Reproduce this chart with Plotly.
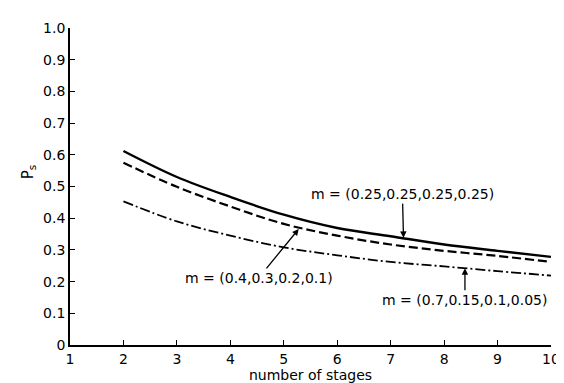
import plotly.graph_objects as go

stages = [2, 3, 4, 5, 6, 7, 8, 9, 10]
ps_uniform = [0.612, 0.530, 0.467, 0.411, 0.369, 0.343, 0.317, 0.297, 0.278]
ps_linear = [0.575, 0.499, 0.437, 0.382, 0.345, 0.317, 0.297, 0.281, 0.262]
ps_skewed = [0.453, 0.390, 0.345, 0.308, 0.283, 0.262, 0.248, 0.233, 0.219]

y_ticks = [0, 0.1, 0.2, 0.3, 0.4, 0.5, 0.6, 0.7, 0.8, 0.9, 1.0]
y_labels = ["0", "0.1", "0.2", "0.3", "0.4", "0.5", "0.6", "0.7", "0.8", "0.9", "1.0"]
x_ticks = [1, 2, 3, 4, 5, 6, 7, 8, 9, 10]

FONT = "DejaVu Sans"

fig = go.Figure()
fig.add_trace(go.Scatter(x=stages, y=ps_uniform, mode="lines", line=dict(color="black", width=2.4, shape="spline"),
                         name="m=(0.25,0.25,0.25,0.25)"))
fig.add_trace(go.Scatter(x=stages, y=ps_linear, mode="lines",
                         line=dict(color="black", width=2.2, dash="9px,4px", shape="spline"),
                         name="m=(0.4,0.3,0.2,0.1)"))
fig.add_trace(go.Scatter(x=stages, y=ps_skewed, mode="lines",
                         line=dict(color="black", width=1.8, dash="10px,3px,2px,3px", shape="spline"),
                         name="m=(0.7,0.15,0.1,0.05)"))

ann_font = dict(family=FONT, size=14, color="black")
arrow_style = dict(showarrow=True, arrowhead=2, arrowsize=1, arrowwidth=1.3, arrowcolor="black",
                   xref="x", yref="y", axref="x", ayref="y", font=ann_font)
fig.add_annotation(x=7.24, y=0.338, ax=7.22, ay=0.476, text="m = (0.25,0.25,0.25,0.25)", **arrow_style)
fig.add_annotation(x=5.28, y=0.366, ax=4.53, ay=0.212, text="m = (0.4,0.3,0.2,0.1)", **arrow_style)
fig.add_annotation(x=8.39, y=0.242, ax=8.39, ay=0.143, text="m = (0.7,0.15,0.1,0.05)", **arrow_style)
fig.add_annotation(x=-0.086, y=0.547, xref="paper", yref="y", xanchor="center", yanchor="middle",
                   text="P<sub>s</sub>", textangle=-90,
                   showarrow=False, font=dict(family=FONT, size=15, color="black"))

fig.update_layout(
    width=564, height=383,
    margin=dict(l=62, r=12, t=17, b=44),
    paper_bgcolor="white", plot_bgcolor="white",
    showlegend=False,
    font=dict(family=FONT, size=14, color="black"),
    xaxis=dict(range=[1, 10], tickvals=x_ticks, ticks="inside", ticklen=5, tickwidth=1.3, tickcolor="black",
               showline=True, linecolor="black", linewidth=1.8, showgrid=False, zeroline=False,
               title=dict(text="number of stages", font=dict(family=FONT, size=14), standoff=2),
               tickfont=dict(family=FONT, size=14)),
    yaxis=dict(range=[0, 1], tickvals=y_ticks, ticktext=y_labels, ticks="inside", ticklen=5, tickwidth=1.3,
               tickcolor="black", showline=True, linecolor="black", linewidth=1.8, showgrid=False,
               zeroline=False, tickfont=dict(family=FONT, size=14)),
)

fig.write_html("out.html")
